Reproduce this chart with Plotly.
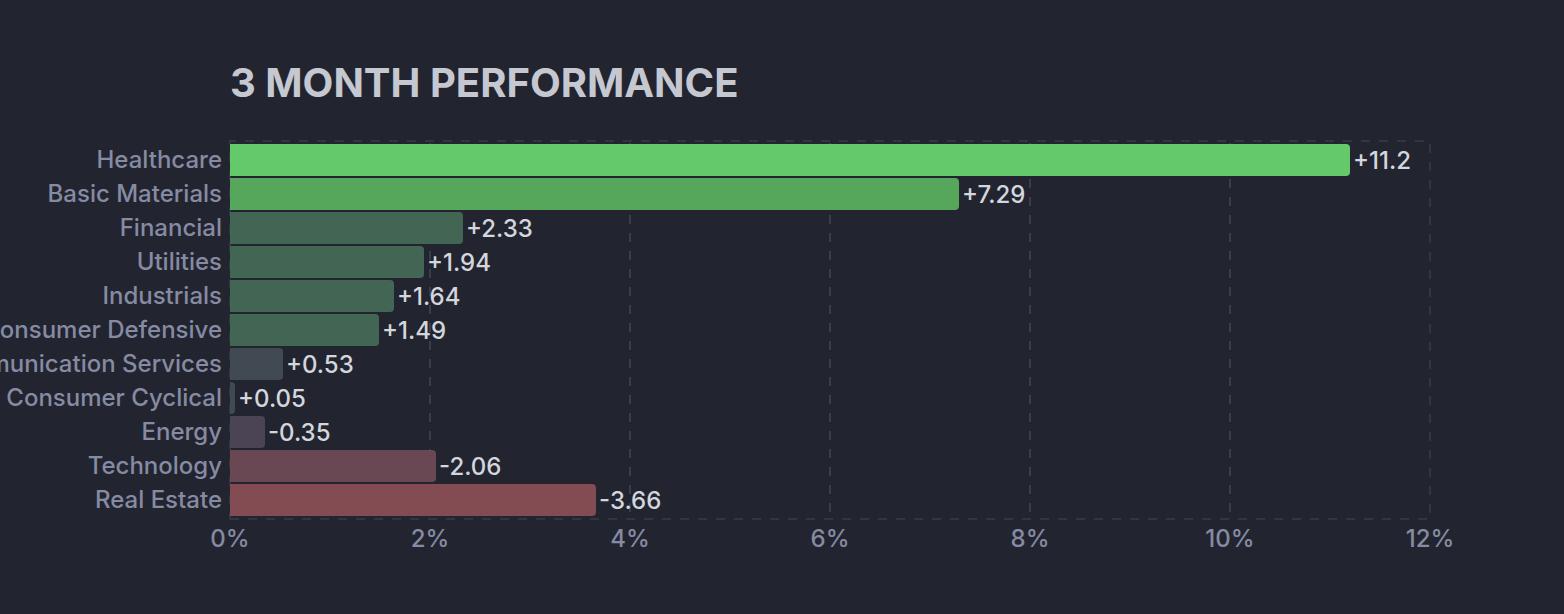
import plotly.graph_objects as go

sectors = ["Healthcare", "Basic Materials", "Financial", "Utilities", "Industrials",
           "Consumer Defensive", "Communication Services", "Consumer Cyclical",
           "Energy", "Technology", "Real Estate"]
perf = [11.2, 7.29, 2.33, 1.94, 1.64, 1.49, 0.53, 0.05, -0.35, -2.06, -3.66]
colors = ["#64c96b", "#56a75c", "#436654", "#436654", "#436654", "#436654",
          "#414a53", "#414a53", "#4a4455", "#6a4853", "#834b52"]
x_ticks = [0, 2, 4, 6, 8, 10, 12]
x_tick_labels = ["0%", "2%", "4%", "6%", "8%", "10%", "12%"]

labels = [("+" if v >= 0 else "") + f"{v:g}" for v in perf]

fig = go.Figure(go.Bar(
    y=sectors,
    x=[abs(v) for v in perf],
    orientation="h",
    marker=dict(color=colors, line=dict(width=0)),
    text=labels,
    textposition="outside",
    constraintext="none",
    textfont=dict(family="Inter", size=24, weight=500, color="#d4d6dd"),
    cliponaxis=False,
    hoverinfo="skip",
))

bg = "#22252f"
pad = 2 / 374
fig.update_layout(
    width=1564, height=614,
    paper_bgcolor=bg, plot_bgcolor=bg,
    margin=dict(l=230, r=134, t=143, b=97, autoexpand=False),
    bargap=0.06,
    barcornerradius=4,
    showlegend=False,
    title=dict(text="<b>3 MONTH PERFORMANCE</b>", x=0, xref="paper", xanchor="left",
               y=1 - 83 / 614, yref="container", yanchor="middle",
               font=dict(family="Inter", size=40, color="#c5c8d0")),
    font=dict(family="Inter"),
    xaxis=dict(range=[0, 12], tickvals=x_ticks, ticktext=x_tick_labels,
               showgrid=True, gridcolor="#393d4b", griddash="dash", gridwidth=1.5,
               zeroline=False, showline=False, automargin=False,
               tickfont=dict(family="Inter", size=24, weight=500, color="#868ba3"),
               ticks="", ticklabelstandoff=5),
    yaxis=dict(autorange="reversed", showgrid=False, zeroline=False, automargin=False,
               tickfont=dict(family="Inter", size=24, weight=500, color="#868ba3"),
               ticks="", ticklabelstandoff=7),
    shapes=[dict(type="rect", xref="paper", yref="paper", x0=0, x1=1,
                 y0=-pad, y1=1 + pad,
                 line=dict(color="#393d4b", width=1.5, dash="dash"), layer="below")],
)

fig.write_html("out.html")
